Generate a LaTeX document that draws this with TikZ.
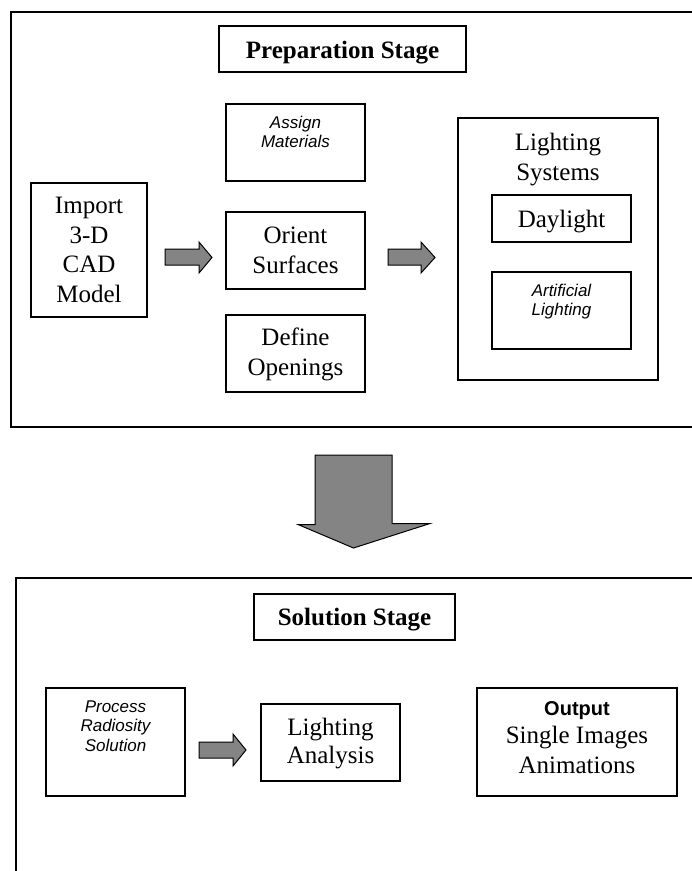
\documentclass[tikz,border=0pt]{standalone}
\usepackage{fontspec}
\setmainfont{Liberation Serif}
\newfontfamily\arialf{Liberation Sans}
\definecolor{arrowgray}{RGB}{132,132,132}
\begin{document}
\begin{tikzpicture}[x=1pt,y=-1pt,
  box/.style={draw=black, line width=1.3pt, inner sep=0pt, fill=white},
  frame/.style={draw=black, line width=1.2pt},
  serif/.style={font=\fontsize{25}{29.5}\selectfont, align=center, inner sep=0pt, anchor=base},
  title/.style={font=\bfseries\fontsize{25}{29}\selectfont, inner sep=0pt, anchor=base},
  sansit/.style={font=\arialf\itshape\fontsize{17}{19}\selectfont, align=center, inner sep=0pt, anchor=base},
  blockarrow/.style={draw=black, line width=1pt, fill=arrowgray, line join=miter}]
\useasboundingbox (0,0) rectangle (692,871);
\fill[white] (0,0) rectangle (692,871);
% stage frames
\draw[frame] (693,12) -- (11,12) -- (11,427) -- (693,427);
\draw[frame] (693,578) -- (16,578) -- (16,872);
% preparation stage
\node[box, minimum width=247, minimum height=46] (prep) at (342.5,49) {};
\node[title] (preptxt) at (342.5,58) {Preparation Stage};
\node[box, minimum width=116, minimum height=134] (import) at (89,250) {};
\node[serif] (importtxt) at (89,302) {Import\\3-D\\CAD\\Model};
\node[box, minimum width=139, minimum height=77] (assign) at (295.5,142.5) {};
\node[sansit] (assigntxt) at (295.5,147) {Assign\\Materials};
\node[box, minimum width=139, minimum height=77] (orient) at (295.5,250.5) {};
\node[serif] (orienttxt) at (295.5,273) {Orient\\Surfaces};
\node[box, minimum width=139, minimum height=77] (define) at (295.5,353.5) {};
\node[serif] (definetxt) at (295.5,375) {Define\\Openings};
\node[box, minimum width=200, minimum height=262] (lightsys) at (558,249) {};
\node[serif] (lightsystxt) at (558,180) {Lighting\\Systems};
\node[box, minimum width=139, minimum height=47] (daylight) at (561.5,218.5) {};
\node[serif] (daylighttxt) at (561.5,227) {Daylight};
\node[box, minimum width=139, minimum height=77] (artificial) at (561.5,310.5) {};
\node[sansit, font=\arialf\itshape\fontsize{17}{18.5}\selectfont] (artificialtxt) at (561.5,315) {Artificial\\Lighting};
% small block arrows
\draw[blockarrow] (165,249) -- (199,249) -- (199,242) -- (212,257.5) -- (199,273) -- (199,265) -- (165,265) -- cycle;
\draw[blockarrow] (388,249) -- (421,249) -- (421,242) -- (435,257.5) -- (421,273) -- (421,265) -- (388,265) -- cycle;
% big down arrow
\draw[blockarrow] (315,455) -- (392,455) -- (392,523.5) -- (430,523.5) -- (353.5,548) -- (298,524.5) -- (315,524.5) -- cycle;
% solution stage
\node[box, minimum width=201, minimum height=46] (sol) at (354.5,617) {};
\node[title] (soltxt) at (354.5,625) {Solution Stage};
\node[box, minimum width=139, minimum height=108] (process) at (115.5,742) {};
\node[sansit, font=\arialf\itshape\fontsize{17}{19.5}\selectfont] (processtxt) at (115.5,751) {Process\\Radiosity\\Solution};
\node[box, minimum width=139, minimum height=77] (analysis) at (330.5,742.5) {};
\node[serif, font=\fontsize{25}{28}\selectfont] (analysistxt) at (330.5,763) {Lighting\\Analysis};
\node[box, minimum width=200, minimum height=108] (output) at (577,742) {};
\node[serif] (outputtxt) at (577,773) {{\arialf\bfseries\fontsize{20}{24}\selectfont Output}\\[-1.5pt]Single Images\\Animations};
\draw[blockarrow] (199,742) -- (233,742) -- (233,734) -- (246,750) -- (233,766) -- (233,758) -- (199,758) -- cycle;
\end{tikzpicture}
\end{document}
